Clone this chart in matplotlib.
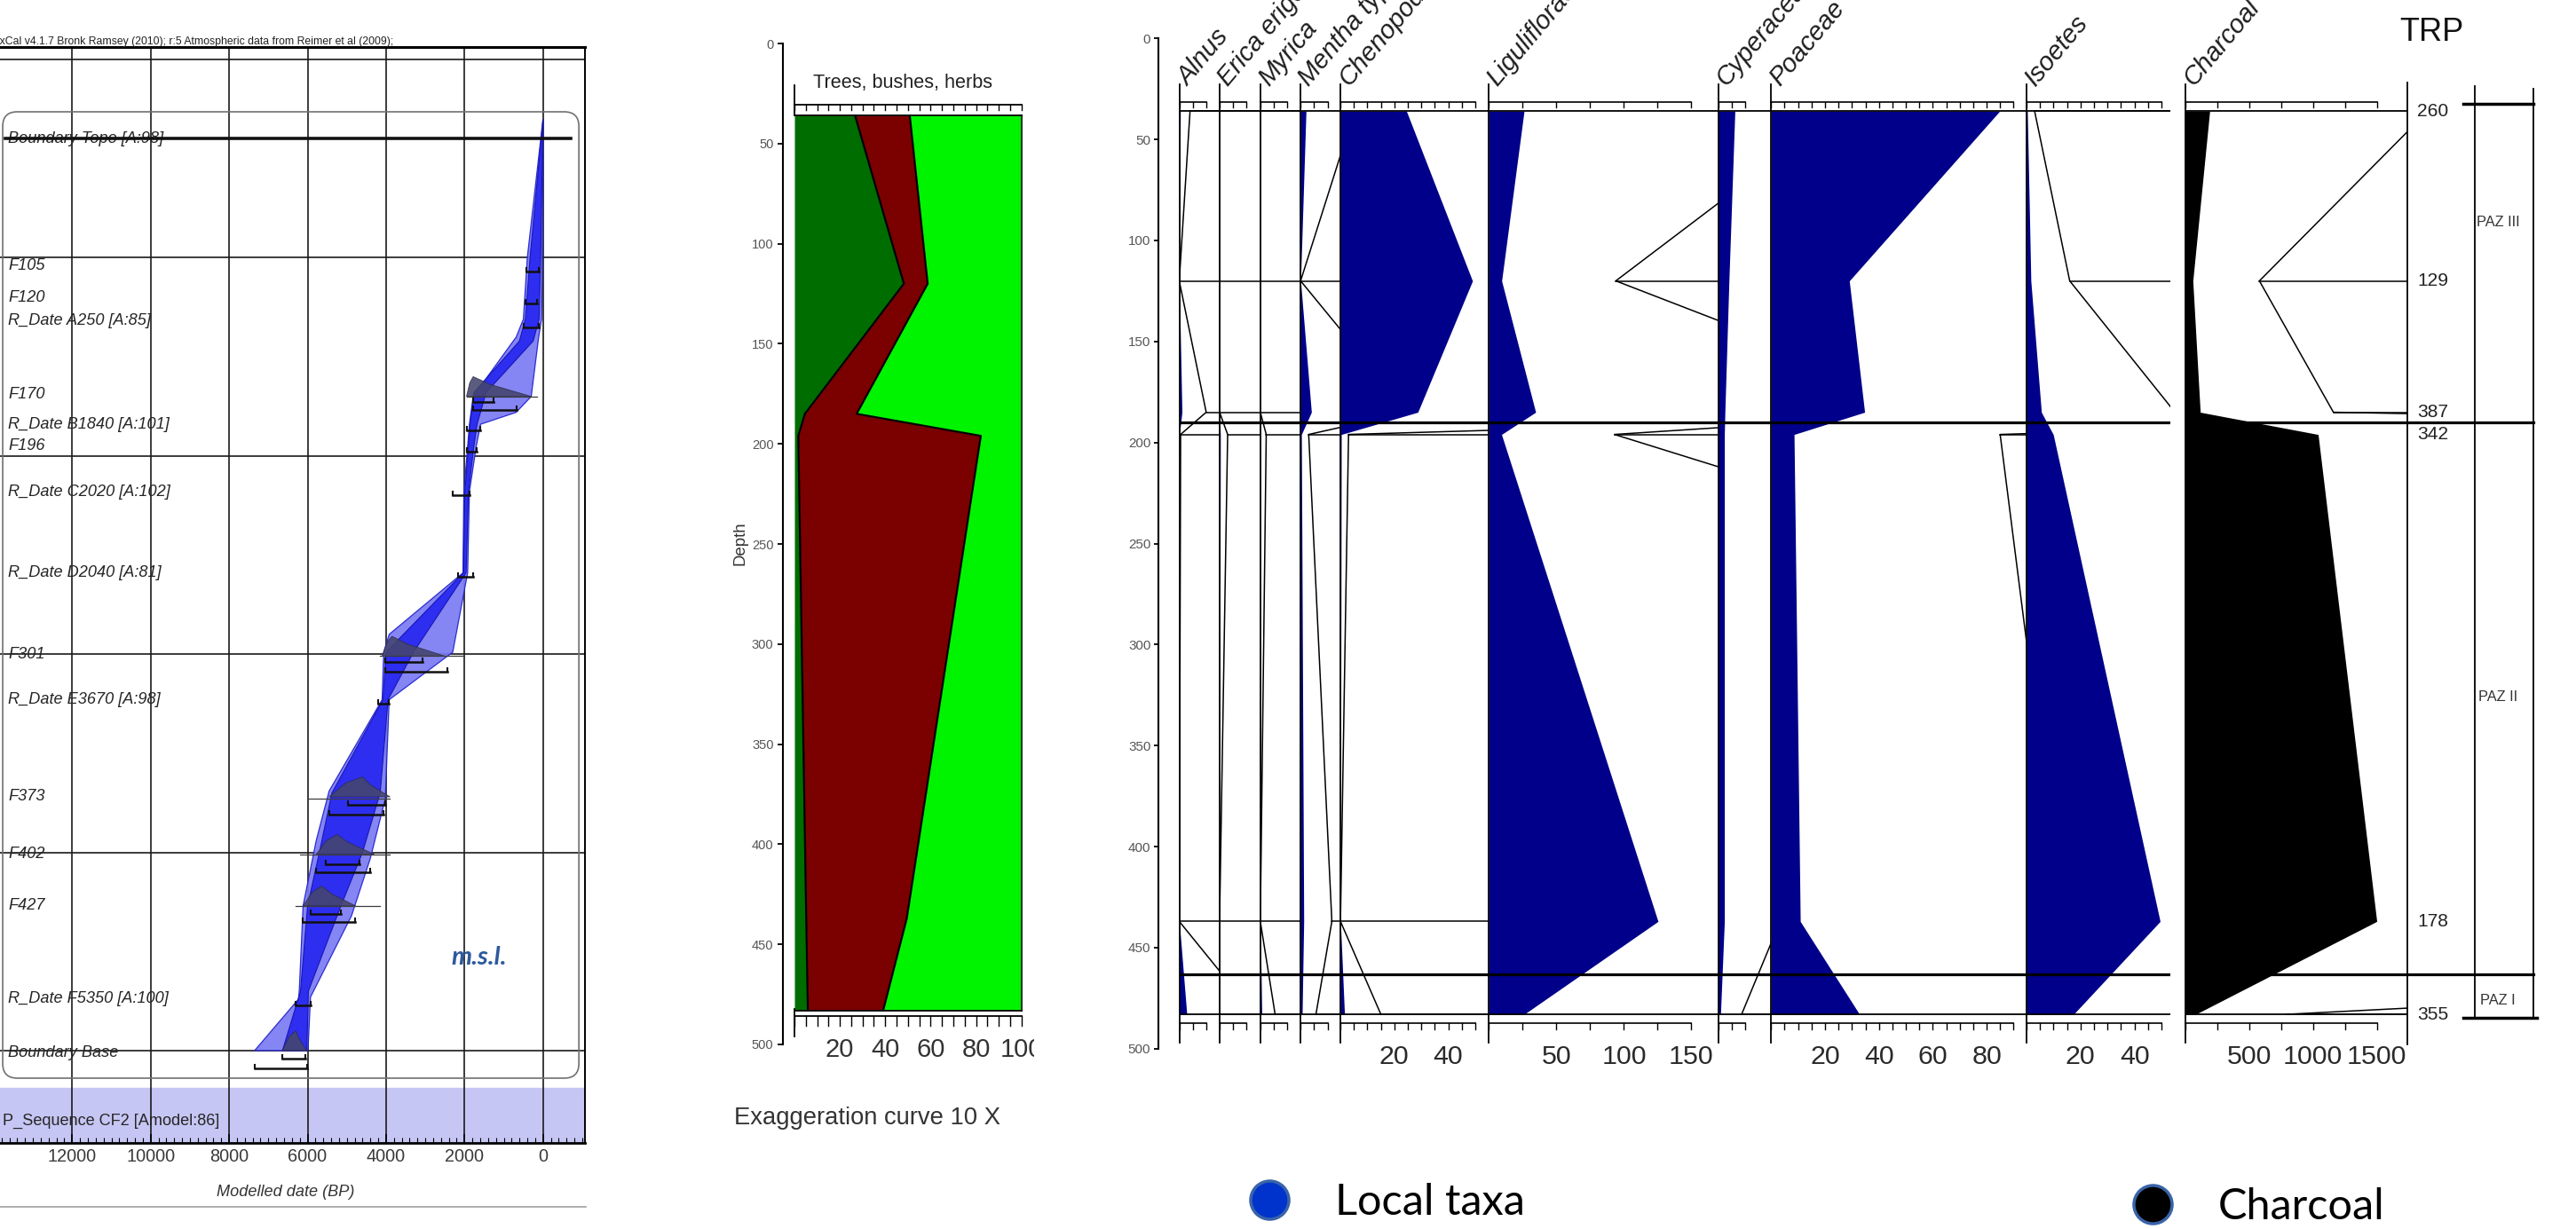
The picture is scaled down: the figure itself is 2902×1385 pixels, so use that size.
import numpy as np
import matplotlib
matplotlib.use("Agg")
import matplotlib.pyplot as plt
from matplotlib import font_manager, transforms
from matplotlib.lines import Line2D
from matplotlib.patches import FancyBboxPatch

# ---------------- age model (OxCal P_Sequence) ----------------
age_labels = ["Boundary Topo [A:98]", "F105", "F120", "R_Date A250 [A:85]", "F170",
              "R_Date B1840 [A:101]", "F196", "R_Date C2020 [A:102]", "R_Date D2040 [A:81]",
              "F301", "R_Date E3670 [A:98]", "F373", "F402", "F427",
              "R_Date F5350 [A:100]", "Boundary Base"]
age_label_depth = [40, 104, 120, 132, 169, 184, 195, 218, 259, 300, 323, 372, 401, 427, 474, 501]
topo_depth = 40

# 95% envelope (older / younger edge)
env95_old_depth = [30, 100, 131, 140, 170, 184, 195, 218, 259, 290, 299, 323, 369, 394, 427, 469, 474, 500]
env95_old_date = [0, 400, 500, 683, 1780, 1875, 1920, 2017, 2040, 3920, 4060, 4100, 5450, 5780, 6115, 6210, 6230, 7350]
env95_young_depth = [30, 100, 131, 140, 170, 178, 184, 195, 218, 259, 299, 323, 373, 403, 432, 473, 500]
env95_young_date = [0, 15, 36, 110, 300, 683, 1590, 1700, 1875, 1920, 2300, 3920, 4020, 4400, 4880, 5925, 5990]
# 68% envelope
env68_depth = [30, 100, 131, 142, 168, 184, 195, 218, 259, 299, 323, 370, 400, 427, 470, 500]
env68_old_date = [0, 330, 450, 600, 1760, 1860, 1900, 1990, 2030, 4000, 4080, 5380, 5700, 6000, 6180, 6640]
env68_young_date = [0, 60, 100, 250, 1450, 1680, 1760, 1900, 1960, 3300, 3950, 4150, 4600, 5150, 5980, 6020]

# modelled probability humps
hump_depth = [170, 301, 372, 401, 427, 500]
hump_old = [1950, 4100, 5450, 5780, 6115, 6640]
hump_peak = [1780, 3850, 4600, 5250, 5640, 6300]
hump_young = [300, 2500, 3900, 4300, 4780, 6020]
# likelihood spans
span_depth = [170, 301, 373, 401, 427]
span_old = [1950, 4150, 6000, 6200, 6300]
span_young = [150, 2000, 3900, 3900, 4150]
# highest posterior density ranges
range_depth = [107, 123, 135, 173, 177, 187, 198, 220, 261, 304, 309, 325, 376, 381, 406, 410, 431, 435, 477, 504, 509]
range_old = [420, 450, 500, 1780, 1780, 1950, 1950, 2300, 2160, 4019, 4019, 4200, 4971, 5447, 5542, 5782, 5925, 6115, 6300, 6638, 7353]
range_young = [100, 150, 100, 1270, 683, 1600, 1700, 1875, 1780, 3065, 2445, 3920, 4019, 4066, 4686, 4399, 5162, 4780, 5925, 6067, 6020]

# ---------------- vegetation groups (%) ----------------
sample_depth = [36, 120, 185, 196, 437, 483]
trees = [26.7, 48.2, 4.6, 1.7, 5.2, 5.9]
bushes = [24.1, 10.5, 22.8, 80.4, 44.3, 33.2]
herbs = [49.2, 41.3, 72.6, 17.9, 50.5, 60.9]

# ---------------- pollen diagram ----------------
taxa = ["Alnus", "Erica erigena", "Myrica", "Mentha type", "Chenopodiaceae",
        "Liguliflorae", "Cyperaceae", "Poaceae", "Isoetes", "Charcoal"]
alnus = [0.4, 0.0, 1.0, 0.05, 0.0, 2.8]
erica = [0.0, 0.0, 0.0, 0.3, 0.0, 0.0]
myrica = [0.0, 0.0, 0.0, 0.22, 0.0, 0.55]
mentha = [2.0, 0.0, 4.0, 0.3, 1.16, 0.57]
chenopodiaceae = [24.5, 49.0, 28.7, 0.3, 0.0, 1.5]
liguliflorae = [26.0, 9.4, 34.6, 9.3, 125.3, 26.0]
cyperaceae = [6.2, 4.0, 2.5, 2.3, 2.3, 0.87]
poaceae = [84.8, 29.0, 34.7, 8.5, 10.8, 32.8]
isoetes = [0.3, 1.6, 5.5, 9.9, 49.5, 17.4]
charcoal = [190, 58, 116, 1040, 1500, 79]
taxa_values = [alnus, erica, myrica, mentha, chenopodiaceae, liguliflorae,
               cyperaceae, poaceae, isoetes, charcoal]
exag_factor = 10
axis_max = [10, 10, 10, 10, 50, 150, 10, 90, 50, 1500]
axis_step = [5, 5, 5, 5, 5, 25, 5, 5, 5, 250]
axis_labels = [[], [], [], [], [20, 40], [50, 100, 150], [], [20, 40, 60, 80], [20, 40], [500, 1000, 1500]]
trp = [260, 129, 387, 342, 178, 355]
zone_depth = [190, 463]
zone_names = ["PAZ III", "PAZ II", "PAZ I"]
zone_label_depth = [91, 326, 476]

# ---------------- fonts ----------------
_fonts = {f.name for f in font_manager.fontManager.ttflist}
if "Liberation Sans Narrow" in _fonts:
    NARROW, K = "Liberation Sans Narrow", 1.0
else:
    NARROW, K = "Liberation Sans", 0.84
plt.rcParams["font.family"] = [NARROW, "DejaVu Sans"]


def fs(x):
    return x * K


W, H = 2902, 1385
fig = plt.figure(figsize=(W / 100, H / 100), dpi=100)


def px_axes(x0, y0, x1, y1):
    ax = fig.add_axes([x0 / W, 1 - y1 / H, (x1 - x0) / W, (y1 - y0) / H])
    ax.patch.set_alpha(0)
    return ax


def ftext(x, y, s, **kw):
    return fig.text(x / W, 1 - y / H, s, **kw)


def fline(xs, ys, **kw):
    fig.add_artist(Line2D([x / W for x in xs], [1 - y / H for y in ys],
                          transform=fig.transFigure, **kw))


# ======================= panel 1: age model =======================
ax1 = px_axes(0, 53, 659, 1288)
ax1.set_xlim(13840, -1070)
ax1.set_ylim(546.6, -6.3)
ax1.set_axisbelow(True)
ax1.set_xticks(range(0, 12001, 2000))
ax1.set_xticks(np.arange(-1000, 13801, 200), minor=True)
ax1.set_yticks(range(0, 501, 100))
ax1.tick_params(axis="y", length=0, labelleft=False)
ax1.tick_params(axis="x", which="major", direction="in", length=7, width=1.2, pad=4,
                labelsize=fs(17), labelcolor="#3a3a3a")
ax1.tick_params(axis="x", which="minor", direction="in", length=4, width=0.8)
ax1.grid(True, which="major", color="#1a1a1a", lw=1.2)
ax1.spines["left"].set_visible(False)
ax1.spines["top"].set_linewidth(2.2)
ax1.spines["bottom"].set_linewidth(2.0)
ax1.spines["right"].set_linewidth(1.4)
ax1.axhspan(519, 546.6, color="#c6c6f4", zorder=0.2)
ax1.add_patch(FancyBboxPatch((0.0046, 0.0591), 0.985, 0.8818,
                             boxstyle="round,pad=0,rounding_size=0.025",
                             mutation_aspect=659 / 1235, transform=ax1.transAxes,
                             fc="none", ec="#707070", lw=1.2, zorder=1))

ax1.fill(np.r_[env95_old_date, env95_young_date[::-1]],
         np.r_[env95_old_depth, env95_young_depth[::-1]],
         fc="#7b7bf2", ec="#2020d0", lw=0.9, alpha=0.92, zorder=3)
ax1.fill(np.r_[env68_old_date, env68_young_date[::-1]],
         np.r_[env68_depth, env68_depth[::-1]],
         fc="#2a2af0", ec="#1414b0", lw=0.8, alpha=0.95, zorder=3.5)

for d, lo, pk, hi in zip(hump_depth, hump_old, hump_peak, hump_young):
    xs = [lo, pk + (lo - pk) * 0.5, pk, pk + (hi - pk) * 0.3, hi]
    ys = [d, d - 7, d - 10, d - 6, d]
    ax1.fill(xs, ys, fc="#45456c", ec="#2c2c4c", lw=0.6, alpha=0.88, zorder=4)
for d, lo, hi in zip(span_depth, span_old, span_young):
    ax1.plot([lo, hi], [d, d], color="#3c3c3c", lw=0.9, zorder=4)
for d, lo, hi in zip(range_depth, range_old, range_young):
    ax1.plot([lo, hi], [d, d], color="#111111", lw=1.8, zorder=5)
    ax1.plot([lo, lo], [d - 1.8, d], color="#111111", lw=1.5, zorder=5)
    ax1.plot([hi, hi], [d - 1.8, d], color="#111111", lw=1.5, zorder=5)

lab_tr = transforms.blended_transform_factory(ax1.transAxes, ax1.transData)
for name, d in zip(age_labels, age_label_depth):
    ax1.text(0.014, d, name, transform=lab_tr, style="italic", fontsize=fs(15.5),
             color="#252525", va="center", ha="left", zorder=6)
ax1.plot([13700, -700], [topo_depth, topo_depth], color="#111111", lw=2.6, zorder=7)
ax1.text(0.005, 535.8, "P_Sequence CF2 [Amodel:86]", transform=lab_tr, fontsize=fs(15.5),
         color="#252525", va="center", ha="left", zorder=6)
ax1.text(1622, 453, "m.s.l.", family=["Lato", "DejaVu Sans"], fontweight="bold",
         style="italic", fontsize=21, color="#2e5a9c", ha="center", va="center", zorder=6)

ftext(322, 1344, "Modelled date (BP)", ha="center", va="center", style="italic",
      fontsize=fs(15.5), color="#333333")
ftext(-10, 47, "OxCal v4.1.7 Bronk Ramsey (2010); r:5 Atmospheric data from Reimer et al (2009);",
      fontsize=fs(10.5), va="center", ha="left", color="#222222")
fline([0, 660], [1360, 1360], color="#a0a0a0", lw=1.2)

# ======================= panel 2: trees, bushes, herbs =======================
Y0V, KV = 49.0, 2.256
X0V, KXV = 895.0, 2.557
ax2 = px_axes(X0V, Y0V, 1165, 1200)
ax2.set_xlim(0, (1165 - X0V) / KXV)
ax2.set_ylim((1200 - Y0V) / KV, 0)
d = np.array(sample_depth, float)
t_cum = np.array(trees)
b_cum = t_cum + np.array(bushes)
h_cum = b_cum + np.array(herbs)
ax2.fill_betweenx(d, 0, t_cum, color="#006d00", lw=0)
ax2.fill_betweenx(d, t_cum, b_cum, color="#7b0000", lw=0)
ax2.fill_betweenx(d, b_cum, h_cum, color="#00f400", lw=0)
ax2.plot(t_cum, d, color="black", lw=1.6)
ax2.plot(b_cum, d, color="black", lw=1.6)
ax2.plot(h_cum, d, color="#1a3a1a", lw=1.5)
ax2.plot([0, 100], [d[0], d[0]], color="black", lw=1.3)
ax2.plot([0, 100], [d[-1], d[-1]], color="black", lw=1.3)
for s in ["top", "right", "bottom"]:
    ax2.spines[s].set_visible(False)
ax2.spines["left"].set_position(("outward", 9.4))
ax2.spines["left"].set_bounds(0, 500)
ax2.spines["left"].set_linewidth(1.5)
ax2.set_yticks(range(0, 501, 50))
ax2.set_xticks([])
ax2.tick_params(axis="y", direction="out", length=4.5, width=1.3, labelsize=fs(12.5),
                labelcolor="#555555", pad=3)
ax2.plot([0, 100], [30.6, 30.6], color="black", lw=1.3, clip_on=False)
ax2.plot([0, 100], [485.6, 485.6], color="black", lw=1.3, clip_on=False)
ax2.plot([0, 0], [20.8, 36], color="black", lw=1.3, clip_on=False)
ax2.plot([0, 0], [482.3, 496], color="black", lw=1.3, clip_on=False)
for v in range(0, 101, 5):
    ax2.plot([v, v], [30.6, 33.2], color="black", lw=1.0, clip_on=False)
    ax2.plot([v, v], [485.6, 490.7], color="black", lw=1.0, clip_on=False)
for v in [20, 40, 60, 80, 100]:
    ax2.text(v, 502.6, str(v), ha="center", va="center", fontsize=fs(25),
             color="#333333", clip_on=True)
ftext(834, 612, "Depth", rotation=90, ha="center", va="center", fontsize=fs(16), color="#333333")
ftext(1017, 94, "Trees, bushes, herbs", ha="center", va="center", fontsize=fs(18.5), color="#222222")
ftext(977, 1260, "Exaggeration curve 10 X", ha="center", va="center", fontsize=fs(23.5), color="#333333")

# ======================= panel 3: pollen diagram =======================
Y0P, KP = 43.3, 2.277
col_px = [(1328.5, 1373.9), (1373.9, 1419.8), (1419.8, 1465.2), (1465.2, 1510.1),
          (1510.1, 1677.4), (1677.4, 1935.6), (1935.6, 1995.3), (1995.3, 2283.0),
          (2283.0, 2445.0), (2462.0, 2711.8)]
col_ppu = [3.035, 3.035, 3.035, 3.035, 3.035, 1.52, 3.035, 3.035, 3.04, 0.1437]
NAVY = "#00008a"

for i, name in enumerate(taxa):
    x0, x1 = col_px[i]
    ax = px_axes(x0, Y0P, x1, Y0P + 500 * KP)
    xmax = (x1 - x0) / col_ppu[i]
    ax.set_xlim(0, xmax)
    ax.set_ylim(500, 0)
    if i == 0:
        for s in ["top", "right", "bottom"]:
            ax.spines[s].set_visible(False)
        ax.spines["left"].set_position(("outward", 16.6))
        ax.spines["left"].set_bounds(0, 500)
        ax.spines["left"].set_linewidth(1.5)
        ax.set_xticks([])
        ax.set_yticks(range(0, 501, 50))
        ax.tick_params(axis="y", direction="out", length=3.6, width=1.3, labelsize=fs(13),
                       labelcolor="#555555", pad=3)
    else:
        ax.axis("off")
    v = np.array(taxa_values[i], float)
    color = "black" if name == "Charcoal" else NAVY
    ax.fill_betweenx(d, 0, v, color=color, lw=0, zorder=2)
    ex = v * exag_factor
    ax.plot(ex, d, color="black", lw=1.1, zorder=3)
    for dd, e in zip(d, ex):
        if e < xmax:
            ax.plot([e, xmax], [dd, dd], color="black", lw=1.1, zorder=3)
    ax.plot([0, xmax], [d[0], d[0]], color="black", lw=1.3, zorder=3)
    ax.plot([0, xmax], [d[-1], d[-1]], color="black", lw=1.3, zorder=3)
    for z in zone_depth:
        ax.axhline(z, color="black", lw=2.3, zorder=4)
    ax.plot([0, 0], [22.7, 497], color="black", lw=1.3, clip_on=False, zorder=4)
    amax = axis_max[i]
    ax.plot([0, amax], [31.5, 31.5], color="black", lw=1.2, clip_on=False)
    ax.plot([0, amax], [487.5, 487.5], color="black", lw=1.2, clip_on=False)
    for tv in np.arange(0, amax + 0.1, axis_step[i]):
        ax.plot([tv, tv], [31.5, 34.3], color="black", lw=1.0, clip_on=False)
        ax.plot([tv, tv], [487.5, 490.6], color="black", lw=1.0, clip_on=False)
    for tv in axis_labels[i]:
        ax.text(tv, 504.0, str(tv), ha="center", va="center", fontsize=fs(26),
                color="#2a2a2a", clip_on=False)
    ax.text(0, 24, name, transform=transforms.offset_copy(ax.transData, fig, x=6.8, y=0, units="points"),
            rotation=50, rotation_mode="anchor", ha="left", va="baseline", style="italic",
            fontsize=fs(25), color="#1e1e1e", clip_on=False)

# TRP / zone column
axT = px_axes(2711.8, Y0P, 2858, Y0P + 500 * KP)
axT.set_xlim(0, 1)
axT.set_ylim(500, 0)
axT.axis("off")
axT.plot([0, 0], [21.8, 497.9], color="black", lw=1.3, clip_on=False)
axT.plot([0.5226, 0.5226], [23.6, 484.7], color="black", lw=1.3, clip_on=False)
axT.plot([0.974, 0.974], [24.9, 484.7], color="black", lw=1.3, clip_on=False)
axT.plot([0.4336, 0.974], [32.5, 32.5], color="black", lw=2.5, clip_on=False)
axT.plot([0.4336, 1.0], [484.7, 484.7], color="black", lw=2.5, clip_on=False)
for z in zone_depth:
    axT.plot([0, 0.974], [z, z], color="black", lw=2.3)
for dd, val in zip(sample_depth, trp):
    axT.text(0.196, dd, str(val), ha="center", va="center", fontsize=fs(18), color="#222222")
for zn, zd in zip(zone_names, zone_label_depth):
    axT.text(0.70, zd, zn, ha="center", va="center", fontsize=fs(14), color="#333333")
axT.text(0.19, -2.9, "TRP", ha="center", va="center", fontsize=fs(31), color="#111111", clip_on=False)

# ---------------- legend markers ----------------
fig.add_artist(Line2D([1430 / W], [1 - 1352 / H], marker="o", markersize=31, ls="none",
                      mfc="#0033cc", mec="#3a64a8", mew=2.5, transform=fig.transFigure))
ftext(1504, 1355, "Local taxa", family=["Lato", "DejaVu Sans"], fontsize=35, va="center", ha="left")
fig.add_artist(Line2D([2425 / W], [1 - 1357 / H], marker="o", markersize=31, ls="none",
                      mfc="black", mec="#3a64a8", mew=2.5, transform=fig.transFigure))
ftext(2499, 1360, "Charcoal", family=["Lato", "DejaVu Sans"], fontsize=35, va="center", ha="left")

fig.savefig("out.png", dpi=100)
